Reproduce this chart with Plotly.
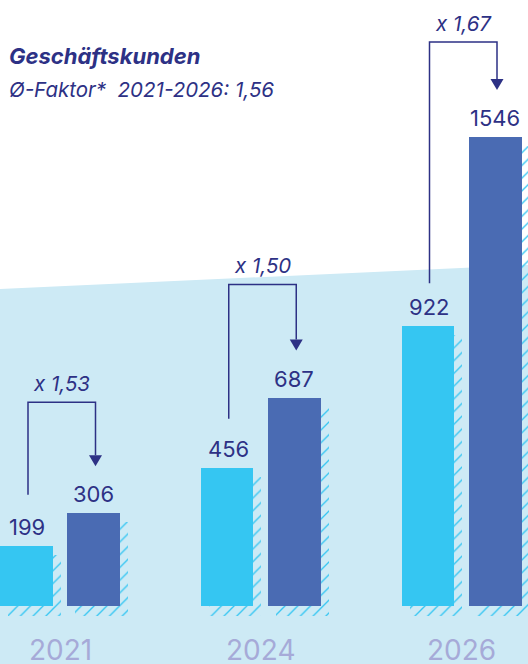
import plotly.graph_objects as go

# ---------------- data ----------------
years = ["2021", "2024", "2026"]
values_2021_base = [199, 456, 922]      # light bars (start value)
values_target = [306, 687, 1546]         # dark bars (end value)
factors = ["x 1,53", "x 1,50", "x 1,67"]
title = "Geschäftskunden"
subtitle = "Ø-Faktor*&nbsp; 2021-2026: 1,56"

# ---------------- layout constants (pixels) ----------------
W, H = 528, 664
X0_PX = 60.0          # pixel of first group centre
PX_X = 200.75         # pixels per category step
BASE_PX = 606.0       # pixel of y = 0
K = 469.0 / 1546.0    # pixels per value unit

def dx(p):
    return p / PX_X

def dy(p):
    return p / K

LIGHT = "#35C6F2"
DARK = "#4A6BB3"
BG = "#CDEAF5"
NAVY = "#2D3185"
YEARCOL = "#A6AAD8"
FONT = "Inter"

LIGHT_OFF, LIGHT_W = -60.0, 52.5
DARK_OFF, DARK_W = 7.0, 53.0
SH_DX, SH_DY, SH_BOT = 8.0, 9.0, 10.0

rise_light = [51, 49, 43]     # bracket start above light bar
rise_h = [111, 113, 95]       # bracket horizontal above dark bar
tip_gap = 47                  # arrow tip above dark bar
tri_h, tri_w = 11, 13

idx = list(range(len(years)))

fig = go.Figure()

pattern = dict(shape="/", size=9, solidity=0.15, fgcolor=LIGHT,
               bgcolor="rgba(0,0,0,0)", fillmode="replace")

# shadows
for vals, off, w in [(values_2021_base, LIGHT_OFF, LIGHT_W), (values_target, DARK_OFF, DARK_W)]:
    fig.add_trace(go.Bar(
        x=idx, y=[v - dy(SH_DY) + dy(SH_BOT) for v in vals], base=[-dy(SH_BOT)] * len(vals),
        offset=dx(off + SH_DX), width=dx(w),
        marker=dict(color=LIGHT, pattern=pattern, line=dict(width=0)),
        hoverinfo="skip", showlegend=False))

# main bars
for vals, off, w, col in [(values_2021_base, LIGHT_OFF, LIGHT_W, LIGHT), (values_target, DARK_OFF, DARK_W, DARK)]:
    fig.add_trace(go.Bar(
        x=idx, y=vals, offset=dx(off), width=dx(w),
        marker=dict(color=col, line=dict(width=0)), showlegend=False))

shapes = []
annotations = []

# background band
shapes.append(dict(type="path", xref="paper", yref="paper",
                   path=f"M 0,{1-289/H} L 1,{1-265/H} L 1,0 L 0,0 Z",
                   fillcolor=BG, line=dict(width=0), layer="below"))

for i in idx:
    lc = i + dx(LIGHT_OFF + LIGHT_W / 2)
    dc = i + dx(DARK_OFF + DARK_W / 2)
    xl = i + dx(-32)
    xd = i + dx(35.5)
    yb = values_2021_base[i] + dy(rise_light[i])
    yh = values_target[i] + dy(rise_h[i])
    tip = values_target[i] + dy(tip_gap)
    ttop = tip + dy(tri_h)
    shapes.append(dict(type="path", xref="x", yref="y",
                       path=f"M {xl},{yb} V {yh} H {xd} V {ttop}",
                       line=dict(color=NAVY, width=1.5)))
    shapes.append(dict(type="path", xref="x", yref="y",
                       path=f"M {xd-dx(tri_w/2)},{ttop} L {xd+dx(tri_w/2)},{ttop} L {xd},{tip} Z",
                       fillcolor=NAVY, line=dict(width=0)))
    annotations.append(dict(x=(xl + xd) / 2, y=yh + dy(19), xref="x", yref="y",
                            text=f"<i>{factors[i]}</i>", showarrow=False,
                            font=dict(family=FONT, size=20.5, color=NAVY),
                            xanchor="center", yanchor="middle"))
    annotations.append(dict(x=lc + dx(1), y=values_2021_base[i] + dy(19), xref="x", yref="y",
                            text=str(values_2021_base[i]), showarrow=False,
                            font=dict(family=FONT, size=22, color=NAVY),
                            xanchor="center", yanchor="middle"))
    annotations.append(dict(x=dc, y=values_target[i] + dy(19), xref="x", yref="y",
                            text=str(values_target[i]), showarrow=False,
                            font=dict(family=FONT, size=22, color=NAVY),
                            xanchor="center", yanchor="middle"))
    annotations.append(dict(x=i, y=1 - 650 / H, xref="x", yref="paper",
                            text=years[i], showarrow=False,
                            font=dict(family=FONT, size=28, color=YEARCOL),
                            xanchor="center", yanchor="middle"))

annotations.append(dict(x=7 / W, y=1 - 56 / H, xref="paper", yref="paper",
                        text=f"<b><i>{title}</i></b>", showarrow=False,
                        font=dict(family=FONT, size=22, color=NAVY),
                        xanchor="left", yanchor="middle"))
annotations.append(dict(x=7 / W, y=1 - 89 / H, xref="paper", yref="paper",
                        text=f"<i>{subtitle}</i>", showarrow=False,
                        font=dict(family=FONT, size=20.5, color=NAVY),
                        xanchor="left", yanchor="middle"))

fig.update_layout(
    width=W, height=H, margin=dict(l=0, r=0, t=0, b=0),
    paper_bgcolor="white", plot_bgcolor="rgba(0,0,0,0)",
    barmode="overlay", bargap=0,
    xaxis=dict(range=[-X0_PX / PX_X, (W - X0_PX) / PX_X], visible=False, fixedrange=True),
    yaxis=dict(range=[-(H - BASE_PX) / K, BASE_PX / K], visible=False, fixedrange=True),
    shapes=shapes, annotations=annotations, showlegend=False,
)

fig.write_html("out.html", config={"displayModeBar": False})
